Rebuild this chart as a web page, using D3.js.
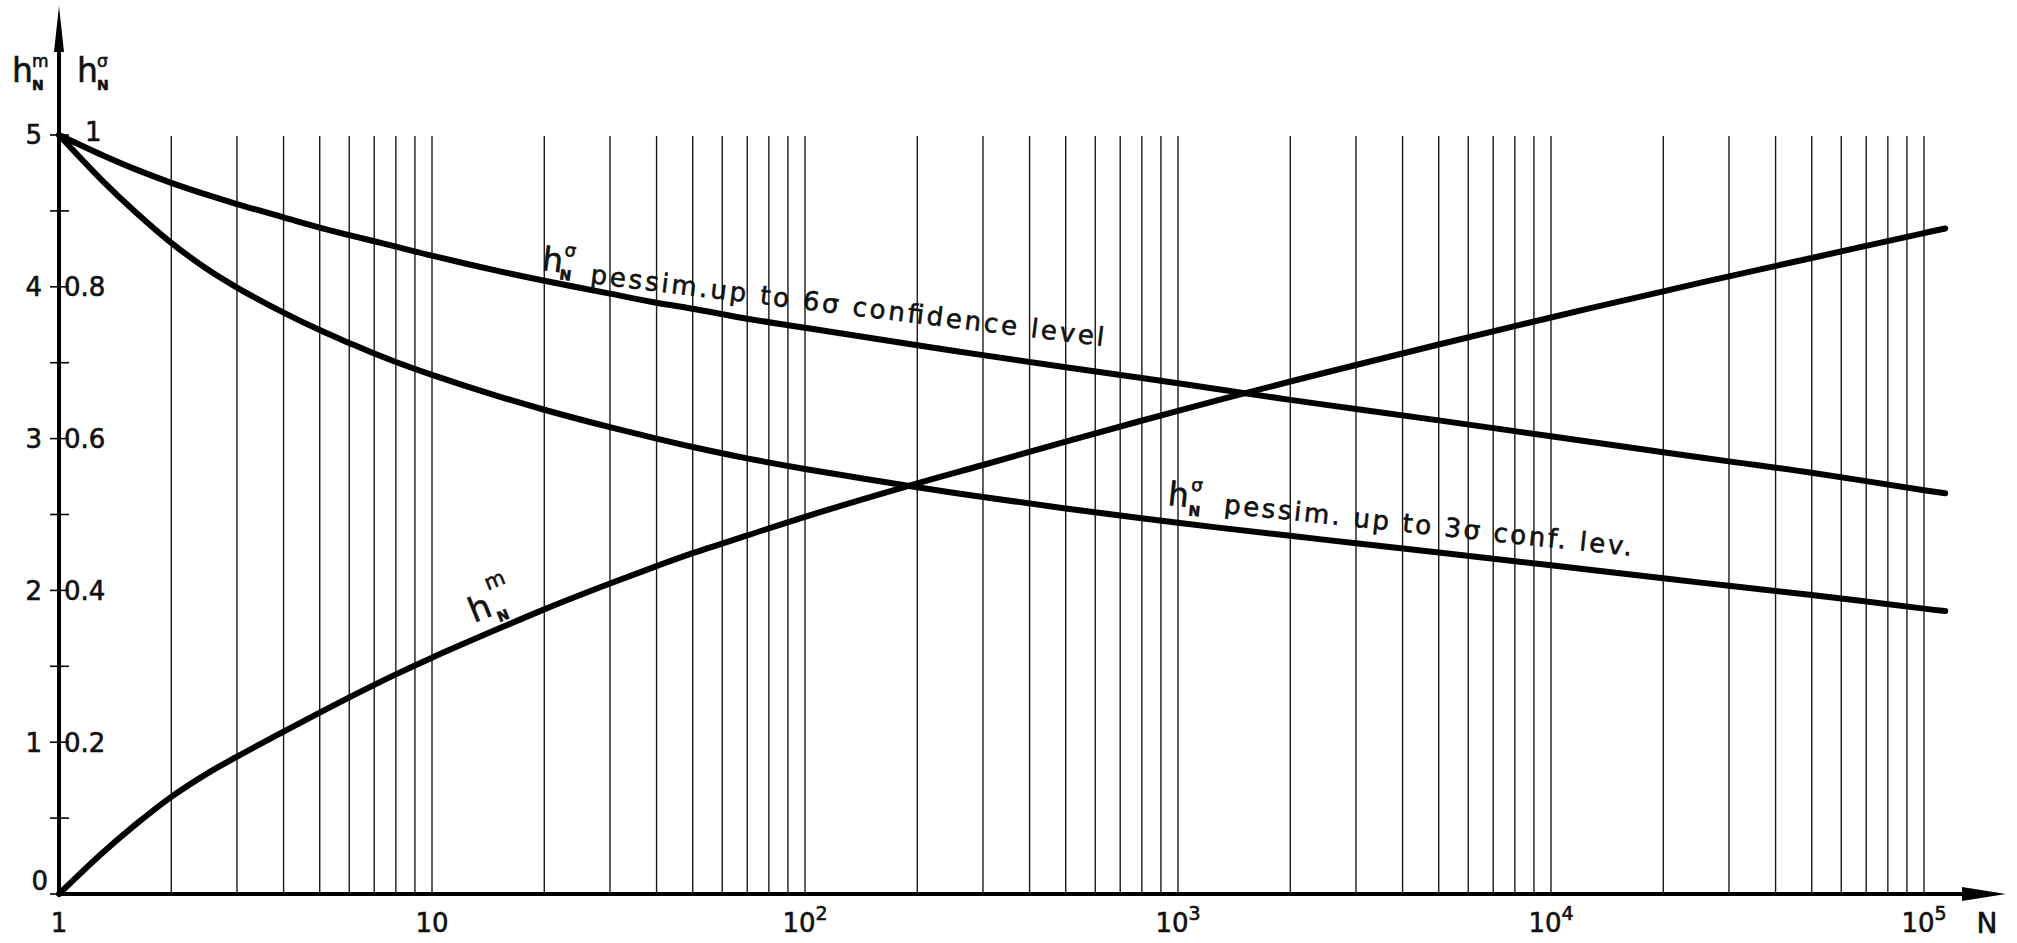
<!DOCTYPE html>
<html>
<head>
<meta charset="utf-8">
<script src="https://cdn.jsdelivr.net/npm/d3@7"></script>
<style>
  html, body { margin: 0; padding: 0; background: #fff; }
  svg { display: block; }
  text { font-family: 'DejaVu Sans', sans-serif; fill: #111; stroke: #111; stroke-width: 0.6px; }
</style>
</head>
<body>
<svg id="chart" width="2017" height="943"></svg>
<script>
'use strict';

var sampleN  = [1, 1.3, 1.6, 2, 2.5, 3, 4, 5, 6, 7, 8, 10, 15, 20, 30, 40, 50, 70, 100, 200, 300, 500,
                1000, 2000, 3000, 5000, 1e4, 2e4, 3e4, 5e4, 1e5, 1.14e5];
// h_N^m  (left scale, 0..5)
var hMean    = [0, 0.265, 0.455, 0.64, 0.795, 0.905, 1.07, 1.195, 1.295, 1.378, 1.447, 1.557, 1.745, 1.875,
                2.045, 2.16, 2.245, 2.362, 2.485, 2.705, 2.826, 2.98, 3.183, 3.376, 3.485, 3.62, 3.798,
                3.97, 4.069, 4.19, 4.354, 4.384];
// h_N^sigma pessim. up to 6 sigma (right scale, 0..1)
var hSigma6  = [1, 0.974, 0.955, 0.937, 0.921, 0.909, 0.8915, 0.878, 0.868, 0.860, 0.853, 0.841, 0.821, 0.808,
                0.791, 0.779, 0.771, 0.758, 0.746, 0.723, 0.710, 0.694, 0.673, 0.651, 0.639, 0.624, 0.603,
                0.582, 0.570, 0.555, 0.532, 0.528];
// h_N^sigma pessim. up to 3 sigma (right scale, 0..1)
var hSigma3  = [1, 0.941, 0.899, 0.858, 0.823, 0.799, 0.766, 0.743, 0.726, 0.712, 0.701, 0.684, 0.656, 0.638,
                0.615, 0.600, 0.589, 0.574, 0.560, 0.536, 0.523, 0.508, 0.489, 0.472, 0.462, 0.450, 0.433,
                0.416, 0.406, 0.394, 0.376, 0.373];

var leftTicks   = [0, 1, 2, 3, 4, 5];
var halfTicks   = [0, 0.5, 1, 1.5, 2, 2.5, 3, 3.5, 4, 4.5, 5];
var rightTicks  = [0.2, 0.4, 0.6, 0.8];
var decades     = [1, 10, 100, 1000, 1e4, 1e5];
var decadeExp   = ['', '', '2', '3', '4', '5'];

var svg = d3.select('#chart');

var x = d3.scaleLog().domain([1, 1e5]).range([59, 1924]);
var y = d3.scaleLinear().domain([0, 5]).range([894, 135]);
var yR = d3.scaleLinear().domain([0, 1]).range([894, 135]);

var gridTop = 136;

// vertical log grid, 2..10 in every decade
var gridN = [];
decades.slice(0, 5).forEach(function(d) {
  for (var m = 2; m <= 10; m++) gridN.push(d * m);
});

svg.append('g').selectAll('line')
    .data(gridN)
  .enter().append('line')
    .attr('x1', function(d) { return x(d); })
    .attr('x2', function(d) { return x(d); })
    .attr('y1', gridTop)
    .attr('y2', y(0))
    .style('stroke', '#1a1a1a')
    .style('stroke-width', 1.4);

// axes with arrows
svg.append('line')
    .attr('x1', x(1)).attr('x2', x(1))
    .attr('y1', y(0)).attr('y2', 40)
    .style('stroke', '#000').style('stroke-width', 4);
svg.append('path')
    .attr('d', 'M' + x(1) + ',6 L' + (x(1) - 5) + ',52 L' + (x(1) + 5) + ',52 Z')
    .style('fill', '#000');

svg.append('line')
    .attr('x1', x(1) - 2).attr('x2', 1970)
    .attr('y1', y(0)).attr('y2', y(0))
    .style('stroke', '#000').style('stroke-width', 4);
svg.append('path')
    .attr('d', 'M2006,' + y(0) + ' L1962,' + (y(0) - 7) + ' L1962,' + (y(0) + 7) + ' Z')
    .style('fill', '#000');

// half-unit ticks on the y axis
svg.append('g').selectAll('line')
    .data(halfTicks)
  .enter().append('line')
    .attr('x1', x(1) - 9).attr('x2', x(1) + 10)
    .attr('y1', function(d) { return y(d); })
    .attr('y2', function(d) { return y(d); })
    .style('stroke', '#000').style('stroke-width', 1.6);

// left tick labels
svg.append('g').selectAll('text')
    .data(leftTicks)
  .enter().append('text')
    .attr('x', function(d) { return d === 0 ? 48 : 42; })
    .attr('y', function(d) { return d === 0 ? y(d) - 13 : y(d); })
    .attr('dy', '0.36em')
    .attr('text-anchor', 'end')
    .style('font-size', '26px')
    .text(function(d) { return d; });

// right tick labels
svg.append('g').selectAll('text')
    .data(rightTicks)
  .enter().append('text')
    .attr('x', 64)
    .attr('y', function(d) { return yR(d); })
    .attr('dy', '0.36em')
    .style('font-size', '26px')
    .text(function(d) { return d.toFixed(1); });
svg.append('text')
    .attr('x', 85).attr('y', yR(1) - 3).attr('dy', '0.36em')
    .style('font-size', '26px')
    .text('1');

// x tick labels: 1, 10, 10^2 ...
var xl = svg.append('g').selectAll('text')
    .data(decades)
  .enter().append('text')
    .attr('x', function(d) { return x(d); })
    .attr('y', 932)
    .attr('text-anchor', 'middle')
    .style('font-size', '26px');
xl.append('tspan').text(function(d, i) { return i === 0 ? '1' : '10'; });
xl.append('tspan')
    .attr('dy', -12)
    .style('font-size', '19px')
    .text(function(d, i) { return decadeExp[i]; });

svg.append('text')
    .attr('x', 1987).attr('y', 933)
    .attr('text-anchor', 'middle')
    .style('font-size', '28px')
    .text('N');

// h symbol with stacked super/subscript
function hSymbol(g, sup, size, supPos, subPos, supScale) {
  g.append('text').attr('x', 0).attr('y', 0)
      .style('font-size', size + 'px').text('h');
  g.append('text').attr('x', supPos[0]).attr('y', supPos[1])
      .style('font-size', Math.round(size * (supScale || 0.5)) + 'px').text(sup);
  g.append('text').attr('x', subPos[0]).attr('y', subPos[1])
      .style('font-size', Math.round(size * 0.42) + 'px')
      .style('font-weight', 'bold').text('N');
}

// axis titles
hSymbol(svg.append('g').attr('transform', 'translate(12,82)'), 'm', 33, [20, -15], [20, 8]);
hSymbol(svg.append('g').attr('transform', 'translate(77,82)'), 'σ', 33, [20, -15], [20, 8]);

// curves
var lineMean = d3.line()
    .x(function(d, i) { return x(sampleN[i]); })
    .y(function(d) { return y(d); })
    .curve(d3.curveCatmullRom.alpha(0.5));
var lineSigma = d3.line()
    .x(function(d, i) { return x(sampleN[i]); })
    .y(function(d) { return yR(d); })
    .curve(d3.curveCatmullRom.alpha(0.5));

var curves = svg.append('g')
    .style('fill', 'none')
    .style('stroke', '#000')
    .style('stroke-width', 6)
    .style('stroke-linecap', 'round')
    .style('stroke-linejoin', 'round');
curves.append('path').datum(hMean).attr('d', lineMean);
curves.append('path').datum(hSigma6).attr('d', lineSigma);
curves.append('path').datum(hSigma3).attr('d', lineSigma);

// curve labels
var lab6 = svg.append('g').attr('transform', 'translate(541,270) rotate(7)');
hSymbol(lab6, 'σ', 33, [21, -17], [19, 7], 0.55);
lab6.append('text')
    .attr('x', 50).attr('y', 7)
    .attr('textLength', 517).attr('lengthAdjust', 'spacing')
    .style('font-size', '26px')
    .text('pessim.up to  6σ  confidence  level');

var lab3 = svg.append('g').attr('transform', 'translate(1167,505) rotate(6)');
hSymbol(lab3, 'σ', 33, [22, -17], [22, 8], 0.55);
lab3.append('text')
    .attr('x', 57).attr('y', 2)
    .attr('textLength', 410).attr('lengthAdjust', 'spacing')
    .style('font-size', '26px')
    .text('pessim. up to 3σ conf. lev.');

var labM = svg.append('g').attr('transform', 'translate(474,623) rotate(-22)');
hSymbol(labM, 'm', 34, [25, -25], [24, 9], 0.62);
</script>
</body>
</html>
